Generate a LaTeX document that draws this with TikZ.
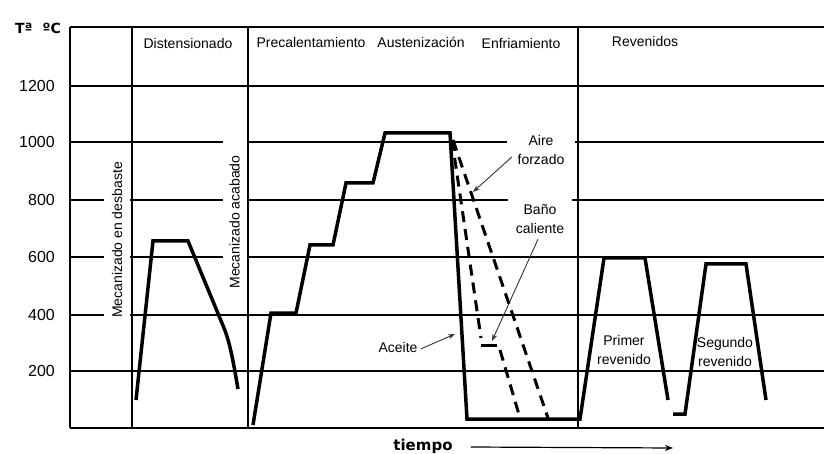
\documentclass[tikz,border=0pt]{standalone}
\usepackage{fontspec}
\setmainfont{Liberation Sans}
\newfontfamily\heavyfont{DejaVu Sans}
\usetikzlibrary{arrows.meta}
\begin{document}
\begin{tikzpicture}[x=1pt,y=-1pt,
  gridline/.style={line width=1.2pt},
  frameline/.style={line width=2.1pt},
  cycleline/.style={line width=3.5pt},
  dashline/.style={line width=3pt, dash pattern=on 11pt off 7pt},
  lbl/.style={font=\fontsize{14}{19}\selectfont, inner sep=1pt, align=center},
  ylbl/.style={font=\fontsize{16}{18}\selectfont, anchor=east, inner sep=0pt},
  note/.style={lbl, fill=white, inner xsep=7pt, inner ysep=4pt},
  vlbl/.style={lbl, rotate=90, fill=white, inner sep=0pt},
  pointer/.style={line width=0.9pt, draw=black!80, -{Stealth[length=7pt,width=5pt]}},
]
\useasboundingbox (0,0) rectangle (824,454);

% temperature grid
\foreach \yy/\tt in {86/1200,142/1000,200/800,257/600,315/400,371/200}{
  \draw[gridline] (70,\yy) -- (824,\yy);
  \node[ylbl] (y\tt) at (55,\yy) {\tt};
}
\draw[frameline] (70,27) -- (824,27);
\draw[frameline] (70,428) -- (824,428);
\draw[frameline] (70,27) -- (70,428);
\foreach \xx in {132,248,578}{
  \draw[gridline] (\xx,27) -- (\xx,428);
}

% axis captions
\node[font=\heavyfont\bfseries\fontsize{14}{16}\selectfont, inner sep=0pt] (tunit) at (38,28) {Tª\hspace{10pt}ºC};
\node[font=\heavyfont\bfseries\fontsize{15}{17}\selectfont, inner sep=0pt] (tiempo) at (423,446) {tiempo};
\coordinate (tend) at (673,448);
\draw[line width=1.2pt, -{Stealth[length=8pt,width=6pt]}] ([xshift=18pt,yshift=-1pt]tiempo.east) -- (tend);

% stage headings
\node[lbl] (hdist) at (188,43) {Distensionado};
\node[lbl] (hprec) at (311,42) {Precalentamiento};
\node[lbl] (haust) at (421,42) {Austenización};
\node[lbl] (henf) at (521,43) {Enfriamiento};
\node[lbl] (hrev) at (645,41) {Revenidos};

% machining steps (vertical)
\node[vlbl, minimum width=180pt, minimum height=26pt] (desbaste) at (117,240) {Mecanizado en desbaste};
\node[vlbl, minimum width=172pt, minimum height=24pt] (acabado) at (234.5,222) {Mecanizado acabado};

% cooling media
\node[note, minimum width=68pt] (aire) at (541,150) {Aire\\forzado};
\node[note, minimum width=64pt, minimum height=44pt] (bano) at (540,219) {Baño\\caliente};
\node[lbl] (aceite) at (398,347) {Aceite};
\coordinate (aireTip) at (473,192);
\coordinate (banoTip) at (492,341);
\coordinate (aceiteTip) at (455,334);
\draw[pointer] ([shift={(5,7)}]aire.west) -- (aireTip);
\draw[pointer] ([shift={(-2,-2)}]bano.south) -- (banoTip);
\draw[pointer] ([shift={(2,2)}]aceite.east) -- (aceiteTip);

% tempering labels
\node[lbl] (primer) at (624,350) {Primer\\revenido};
\node[lbl] (segundo) at (725,352) {Segundo\\revenido};

% stress relieving
\draw[cycleline] (136,400) -- (153,241) -- (188,241) -- (224,328)
  .. controls (230,343) and (233,360) .. (238,389);

% preheating, austenitising, oil quench and first temper
\draw[cycleline] (253,425) -- (271,313) -- (296,313) -- (310,245) -- (333,245)
  -- (346,183) -- (373,183) -- (385,133) -- (450,133) -- (467,419)
  -- (580,419) -- (604,258) -- (645,258) -- (668,400);

% second temper
\draw[cycleline] (673,414) -- (685,414) -- (706,264) -- (746,264) -- (766,400);

% hot bath (martempering) and forced air cooling
\draw[dashline] (452,140) -- (481,338);
\draw[line width=3pt] (481,345) -- (497,345);
\draw[dashline] (500,350) -- (520,418);
\draw[dashline] (453,140) -- (548,418);
\end{tikzpicture}
\end{document}
